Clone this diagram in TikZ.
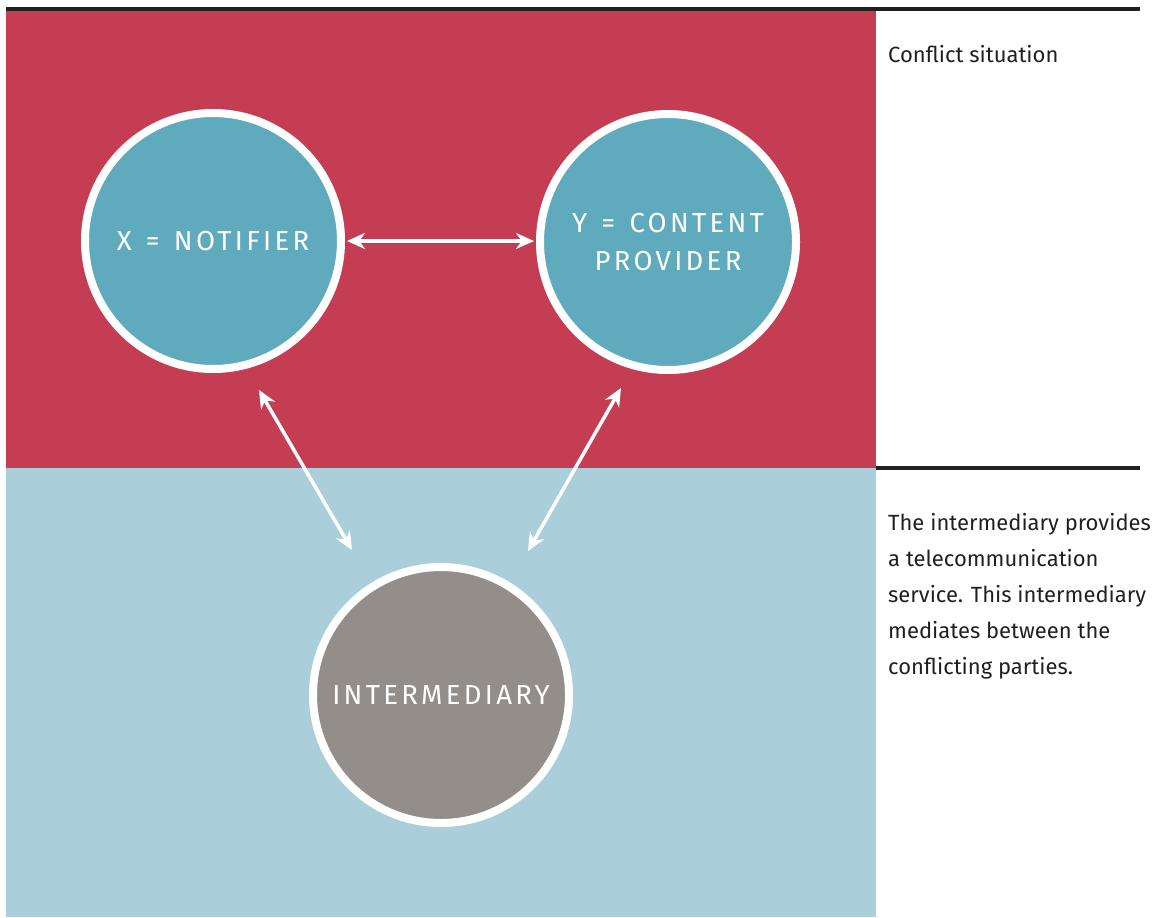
\documentclass[tikz,border=0pt]{standalone}
\usepackage{fontspec}
\setmainfont{Fira Sans}
\newfontfamily\circfont[LetterSpace=12,WordSpace=1.35]{Fira Sans}
\usetikzlibrary{arrows.meta}
\definecolor{redbg}{HTML}{C43D52}
\definecolor{bluebg}{HTML}{AACFDA}
\definecolor{teal}{HTML}{5FAABD}
\definecolor{greyc}{HTML}{948E8A}
\definecolor{ink}{HTML}{231F20}
\tikzset{
  party/.style={circle, draw=white, line width=8pt, minimum size=256pt, inner sep=0pt,
    text=white, align=center, font=\circfont\fontsize{27.5pt}{38pt}\selectfont},
  link/.style={draw=white, line width=3.5pt, {Stealth[length=18pt,width=16pt]}-{Stealth[length=18pt,width=16pt]}},
  rule/.style={draw=ink, line width=3.5pt},
  side/.style={anchor=north west, align=left, text=ink, inner sep=0pt,
    font=\fontsize{22pt}{36pt}\selectfont}
}
\begin{document}
\begin{tikzpicture}[x=1pt,y=-1pt]
\useasboundingbox (0,0) rectangle (1159,918);
\fill[redbg] (6,10) rectangle (876,468);
\fill[bluebg] (6,468) rectangle (876,917);
\draw[rule] (6,9) -- (1140,9);
\draw[rule] (876,468) -- (1140,468);
\node[party, fill=teal] (x) at (213,241) {X = NOTIFIER};
\node[party, fill=teal] (y) at (668,242) {Y = CONTENT\\PROVIDER};
\node[party, fill=greyc] (i) at (441,695) {INTERMEDIARY};
\coordinate (xr) at (347,241);
\coordinate (yl) at (534,241);
\coordinate (xb) at (259,390);
\coordinate (il) at (352,550);
\coordinate (yb) at (621,388);
\coordinate (ir) at (528,551);
\draw[link] (xr) -- (yl);
\draw[link] (xb) -- (il);
\draw[link] (yb) -- (ir);
\node[side] (t1) at (888,45) {Conflict situation};
\node[side] (t2) at (888,513) {The intermediary provides\\a telecommunication\\service. This intermediary\\mediates between the\\conflicting parties.};
\end{tikzpicture}
\end{document}
